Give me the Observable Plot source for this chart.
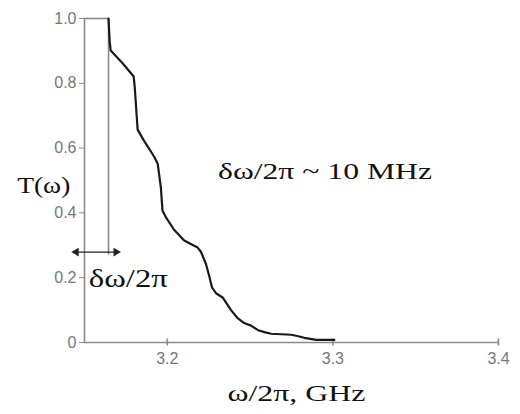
<!DOCTYPE html>
<html>
<head>
<meta charset="utf-8">
<script src="https://cdn.jsdelivr.net/npm/d3@7"></script>
<script src="https://cdn.jsdelivr.net/npm/@observablehq/plot@0.6"></script>
<style>
  html, body { margin: 0; padding: 0; background: #fff; }
</style>
</head>
<body>
<div id="chart"></div>
<script>
// Transmission curve T(ω) vs ω/2π (GHz)
const freq = [3.1645, 3.1652, 3.1658, 3.1730, 3.1797, 3.1803, 3.1809, 3.1815, 3.1821, 3.1859,
  3.1920, 3.1942, 3.1961, 3.1971, 3.1991, 3.2041, 3.2102, 3.2142, 3.2183, 3.2203,
  3.2233, 3.2253, 3.2270, 3.2294, 3.2336, 3.2385, 3.2425, 3.2464, 3.2506, 3.2548,
  3.2587, 3.2627, 3.2748, 3.2785, 3.2827, 3.2900, 3.3009];
const trans = [1.000, 0.930, 0.901, 0.862, 0.821, 0.790, 0.747, 0.700, 0.657, 0.623,
  0.574, 0.552, 0.479, 0.407, 0.387, 0.348, 0.315, 0.304, 0.293, 0.280,
  0.243, 0.205, 0.170, 0.152, 0.138, 0.100, 0.075, 0.060, 0.052, 0.038,
  0.032, 0.027, 0.024, 0.020, 0.0145, 0.008, 0.008];

// Axis ticks
const xTicks = [3.2, 3.3, 3.4];
const yTicks = [0, 0.2, 0.4, 0.6, 0.8, 1.0];
const yTickLabels = ["0", "0.2", "0.4", "0.6", "0.8", "1.0"];
const xDomain = [3.15, 3.4];
const yDomain = [0, 1];

// Bandwidth marker (δω/2π)
const plateau = [{x1: 3.15, x2: 3.1645, y: 1.0}];
const markerLine = [{x: 3.1645, y1: 1.0, y2: 0.27}];
const bandArrow = [{x1: 3.1450, x2: 3.1690, y: 0.279}];
const arrowHeads = [{x: 3.1450, y: 0.279, rot: -90}, {x: 3.1690, y: 0.279, rot: 90}];

// Labels
const xLabel = "ω/2π, GHz";
const yLabel = "T(ω)";
const notes = [
  {x: 3.2306, y: 0.505, text: "δω/2π ~ 10 MHz", size: 24, width: 214},
  {x: 3.1526, y: 0.170, text: "δω/2π", size: 25, width: 79}
];
const yLabelPos = [{x: 3.1094, y: 0.460, text: yLabel, width: 53}];
const xLabelWidth = 138;

const data = freq.map((f, i) => ({f, t: trans[i]}));
const axisGray = "#8a8a8a";
const tickFont = "'Liberation Sans', Arial, sans-serif";
const serif = "'Liberation Serif', 'Times New Roman', serif";

const chart = Plot.plot({
  width: 520,
  height: 414,
  marginLeft: 84,
  marginRight: 22,
  marginTop: 18,
  marginBottom: 72,
  x: {domain: xDomain},
  y: {domain: yDomain},
  style: {background: "#fff", overflow: "visible"},
  marks: [
    // axis lines
    Plot.ruleY([0], {stroke: axisGray, strokeWidth: 1.6}),
    Plot.ruleX([xDomain[0]], {stroke: axisGray, strokeWidth: 1.6}),
    // y axis ticks and labels
    Plot.axisY({
      ticks: yTicks, tickSize: 5, tickPadding: 3,
      tickFormat: (d) => yTickLabels[yTicks.indexOf(d)],
      stroke: axisGray, color: "#777", fontSize: 16,
      fontFamily: tickFont, label: null
    }),
    // x axis ticks crossing the axis
    Plot.axisX({
      ticks: xTicks, tickSize: 7, dy: -3.5, text: null,
      stroke: axisGray, strokeWidth: 1.6, label: null
    }),
    Plot.axisX({
      ticks: xTicks, tickSize: 0, tickPadding: 10,
      tickFormat: d => d.toFixed(1),
      color: "#777", fontSize: 16, fontFamily: tickFont, label: null
    }),
    // bandwidth marker
    Plot.ruleY(plateau, {x1: "x1", x2: "x2", y: "y", stroke: axisGray, strokeWidth: 1.6}),
    Plot.ruleX(markerLine, {x: "x", y1: "y1", y2: "y2", stroke: axisGray, strokeWidth: 1.6}),
    Plot.link(bandArrow, {
      x1: "x1", x2: "x2", y1: "y", y2: "y",
      stroke: "#222", strokeWidth: 1.4, clip: false
    }),
    Plot.dot(arrowHeads, {
      x: "x", y: "y", rotate: "rot", symbol: "triangle", r: 3.2,
      fill: "#222", stroke: "none", clip: false
    }),
    // curve
    Plot.line(data, {x: "f", y: "t", stroke: "#1a1a1a", strokeWidth: 2.2, strokeLinejoin: "round"}),
    // annotations
    Plot.text(notes, {
      x: "x", y: "y", text: "text", fontSize: d => d.size,
      textAnchor: "start", lineAnchor: "bottom", fill: "#111",
      fontFamily: serif
    }),
    Plot.text(yLabelPos, {
      x: "x", y: "y", text: "text", fontSize: 23,
      textAnchor: "start", lineAnchor: "bottom", fill: "#111",
      fontFamily: serif
    }),
    Plot.text([xLabel], {
      frameAnchor: "bottom", dx: 5, dy: 58, lineAnchor: "bottom",
      fontSize: 23, fill: "#111", fontFamily: serif
    })
  ]
});

// stretch serif labels horizontally to match the reference's proportions
const widthByText = new Map([
  ...notes.map(d => [d.text, d.width]),
  ...yLabelPos.map(d => [d.text, d.width]),
  [xLabel, xLabelWidth]
]);
chart.querySelectorAll("text").forEach(t => {
  const w = widthByText.get(t.textContent);
  if (w != null) {
    t.setAttribute("textLength", w);
    t.setAttribute("lengthAdjust", "spacingAndGlyphs");
  }
});

document.getElementById("chart").appendChild(chart);
</script>
</body>
</html>
